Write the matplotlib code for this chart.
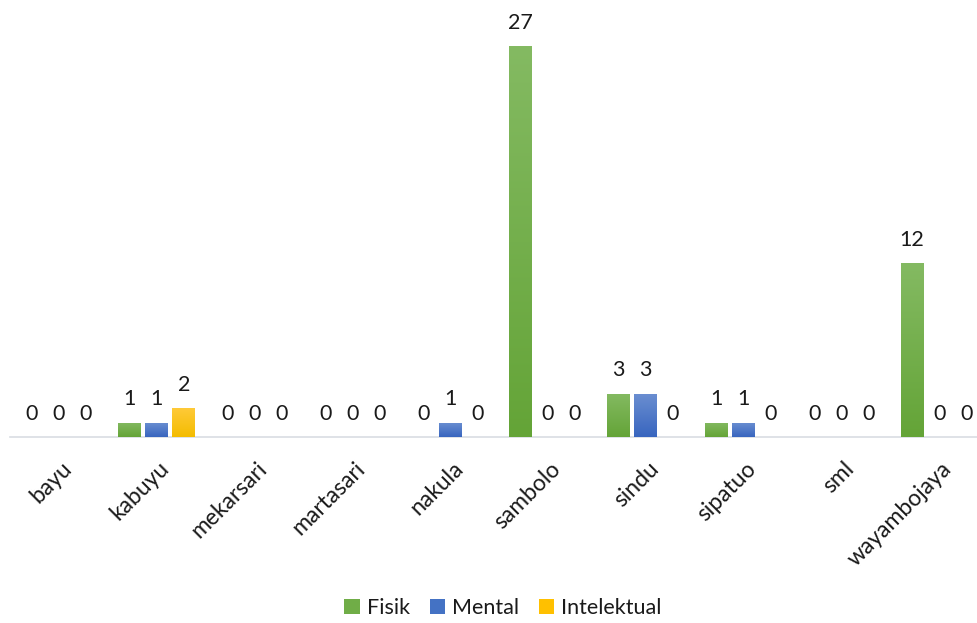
import matplotlib
matplotlib.use("Agg")
import matplotlib.pyplot as plt
import numpy as np
from matplotlib.colors import LinearSegmentedColormap
from matplotlib.transforms import ScaledTranslation

categories = ["bayu", "kabuyu", "mekarsari", "martasari", "nakula", "sambolo",
              "sindu", "sipatuo", "sml", "wayambojaya"]
fisik = [0, 1, 0, 0, 0, 27, 3, 1, 0, 12]
mental = [0, 1, 0, 0, 1, 0, 3, 1, 0, 0]
intelektual = [0, 2, 0, 0, 0, 0, 0, 0, 0, 0]
series_names = ["Fisik", "Mental", "Intelektual"]

grads = [("#84ba62", "#64a437"), ("#6b8fd1", "#3865bf"), ("#ffca38", "#f4bc00")]
solid = ["#70ad47", "#4472c4", "#ffc000"]

FS = 15.5
plt.rcParams['font.family'] = ['Lato', 'DejaVu Sans']
fig = plt.figure(figsize=(9.77, 6.23), dpi=100)
ax = fig.add_axes([10/977, (623-437)/623, 978/977, 434/623])

x = np.arange(len(categories))
width = 0.235
step = 0.276

for i, (vals, name) in enumerate(zip([fisik, mental, intelektual], series_names)):
    pos = x + (i - 1) * step
    bars = ax.bar(pos, vals, width, color=solid[i], label=name, zorder=2)
    cmap = LinearSegmentedColormap.from_list("g%d" % i, [grads[i][1], grads[i][0]])
    for b, v in zip(bars, vals):
        if v > 0:
            bx, by = b.get_x(), b.get_y()
            bw, bh = b.get_width(), b.get_height()
            grad = np.linspace(0, 1, 256).reshape(-1, 1)
            im = ax.imshow(grad, cmap=cmap, origin="lower", aspect="auto",
                           extent=[bx, bx + bw, by, by + bh], zorder=3)
            im.set_clip_path(b)
        ax.annotate(str(v), (b.get_x() + b.get_width() / 2, v),
                    xytext=(0, 9.5), textcoords="offset points",
                    ha="center", va="bottom", fontsize=FS, color="#1a1a1a")

ax.set_xlim(-0.5, len(categories) - 0.5)
ax.set_ylim(0, 30)

for s in ["top", "right", "left"]:
    ax.spines[s].set_visible(False)
ax.spines["bottom"].set_color("#d9dde3")
ax.spines["bottom"].set_linewidth(1.2)
ax.set_yticks([])
ax.set_xticks(x)
ax.set_xticklabels(categories, rotation=45, ha="right", va="top",
                   rotation_mode="anchor", fontsize=16.5, color="#1a1a1a")
ax.tick_params(axis="x", length=0, pad=15)
for lab in ax.get_xticklabels():
    lab.set_transform(lab.get_transform() + ScaledTranslation(2/100, 0, fig.dpi_scale_trans))

handles, labels = ax.get_legend_handles_labels()
leg = fig.legend(handles, labels, loc="center", bbox_to_anchor=(503/977, 1 - 608/623),
                 ncol=3, frameon=False, fontsize=FS, handlelength=0.7, handleheight=0.7,
                 handletextpad=0.35, columnspacing=0.9)
for t in leg.get_texts():
    t.set_color("#1a1a1a")

fig.savefig("out.png", dpi=100)
